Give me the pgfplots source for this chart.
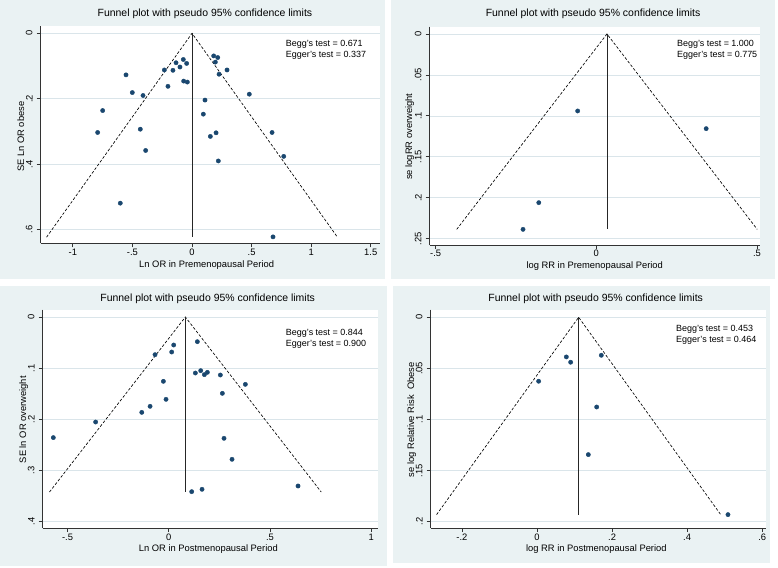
\documentclass[border=0pt]{standalone}
\usepackage{fontspec}
\setmainfont{Liberation Sans}
\usepackage{pgfplots}
\pgfplotsset{compat=1.18}
\definecolor{stbg}{RGB}{234,242,243}
\definecolor{stgrid}{RGB}{218,229,234}
\definecolor{stnavy}{RGB}{26,71,111}
\tikzset{sttest/.style={anchor=base west, inner sep=0pt, font=\fontsize{9}{10}\selectfont}}
\pgfplotsset{
  stata/.style={
    scale only axis,
    y dir=reverse,
    axis x line*=bottom, axis y line*=left,
    axis line style={black!80, line width=0.8bp},
    tick align=outside,
    major tick length=4bp,
    tick style={black!80, line width=0.8bp},
    ymajorgrids, grid style={stgrid, line width=0.7bp},
    font=\fontsize{9.4}{11}\selectfont,
    title style={font=\fontsize{10.5}{12}\selectfont, anchor=base, inner sep=0pt},
    xlabel style={anchor=base, inner sep=0pt},
    ylabel style={anchor=base, inner sep=0pt},
    yticklabel style={rotate=90, anchor=south, inner sep=0pt},
    yticklabel shift=4bp,
    xticklabel style={anchor=base, inner sep=0pt},
    xticklabel shift=8bp,
    clip=false,
  },
  stdots/.style={only marks, mark=*, mark size=2.15bp, mark options={fill=stnavy, draw=stnavy}},
  stfunnel/.style={black, line width=0.65bp, dash pattern=on 2.8bp off 1.8bp, mark=none},
  stcline/.style={black!85, line width=0.9bp, mark=none},
}
\begin{document}
\begin{tikzpicture}
\fill[white] (0bp,0bp) rectangle (778bp,568bp);
\fill[stbg] (0bp,289bp) rectangle (385bp,568bp);
\fill[stbg] (391bp,289bp) rectangle (775bp,568bp);
\fill[stbg] (0bp,2bp) rectangle (387bp,282bp);
\fill[stbg] (393bp,5bp) rectangle (770bp,282bp);
% plot regions
\fill[white] (40.7bp,324.7bp) rectangle (380bp,541.5bp);
\fill[white] (429.7bp,323bp) rectangle (759.7bp,541.3bp);
\fill[white] (42.7bp,40bp) rectangle (378bp,258.3bp);
\fill[white] (430.7bp,40bp) rectangle (766bp,258.3bp);

% Panel 1
\begin{axis}[stata, at={(40.7bp,324.7bp)}, anchor=south west,
  width=339.3bp, height=216.8bp,
  xmin=-1.270, xmax=1.578, ymin=-0.0208, ymax=0.6416,
  xtick={-1,-0.5,0,0.5,1,1.5}, xticklabels={-1,-.5,0,.5,1,1.5},
  ytick={0,0.2,0.4,0.6}, yticklabels={0,.2,.4,.6},
  title={Funnel plot with pseudo 95\% confidence limits},
  title style={at={(axis description cs:0.484,1.0175)}},
  xlabel={Ln OR in Premenopausal Period},
  xlabel style={at={(axis description cs:0.489,-0.1125)}},
  ylabel={SE Ln OR obese},
  ylabel style={at={(axis description cs:-0.0492,0.4917)}},
]
\addplot[stfunnel] coordinates {(-1.221,0.623) (0,0) (1.221,0.623)};
\addplot[stcline] coordinates {(0,0) (0,0.623)};
\addplot[stdots] coordinates {
(-0.554,0.127) (-0.501,0.181) (-0.411,0.190) (-0.750,0.236) (-0.792,0.303)
(-0.434,0.293) (-0.389,0.358) (-0.602,0.519) (-0.232,0.112) (-0.160,0.113)
(-0.134,0.090) (-0.101,0.103) (-0.073,0.080) (-0.045,0.092) (-0.202,0.162)
(-0.070,0.146) (-0.039,0.149) (0.182,0.069) (0.216,0.074) (0.196,0.088)
(0.227,0.125) (0.294,0.112) (0.109,0.204) (0.095,0.247) (0.154,0.315)
(0.202,0.304) (0.221,0.390) (0.481,0.186) (0.672,0.303) (0.770,0.376)
(0.680,0.622)};
\node[sttest] at (axis description cs:0.722,0.907) {Begg's test = 0.671};
\node[sttest] at (axis description cs:0.722,0.858) {Egger's test = 0.337};
\end{axis}

% Panel 2
\begin{axis}[stata, at={(429.7bp,323bp)}, anchor=south west,
  width=330bp, height=218.3bp,
  xmin=-0.5185, xmax=0.5086, ymin=-0.0089, ymax=0.2577,
  xtick={-0.5,0,0.5}, xticklabels={-.5,0,.5},
  ytick={0,0.05,0.1,0.15,0.2,0.25}, yticklabels={0,.05,.1,.15,.2,.25},
  title={Funnel plot with pseudo 95\% confidence limits},
  title style={at={(axis description cs:0.495,1.0183)}},
  xlabel={log RR in Premenopausal Period},
  xlabel style={at={(axis description cs:0.5,-0.1054)}},
  ylabel={se logRR overweight},
  ylabel style={at={(axis description cs:-0.0536,0.496)}},
]
\addplot[stfunnel] coordinates {(-0.4345,0.2386) (0.0332,0) (0.5009,0.2386)};
\addplot[stcline] coordinates {(0.0332,0) (0.0332,0.2386)};
\addplot[stdots] coordinates {(-0.058,0.094) (0.342,0.1156) (-0.179,0.206) (-0.228,0.2386)};
\node[sttest] at (axis description cs:0.749,0.908) {Begg's test = 1.000};
\node[sttest] at (axis description cs:0.749,0.860) {Egger's test = 0.775};
\end{axis}

% Panel 3
\begin{axis}[stata, at={(42.7bp,40bp)}, anchor=south west,
  width=335.3bp, height=218.3bp,
  xmin=-0.6225, xmax=1.034, ymin=-0.0143, ymax=0.4129,
  xtick={-0.5,0,0.5,1}, xticklabels={-.5,0,.5,1},
  ytick={0,0.1,0.2,0.3,0.4}, yticklabels={0,.1,.2,.3,.4},
  title={Funnel plot with pseudo 95\% confidence limits},
  title style={at={(axis description cs:0.492,1.011)}},
  xlabel={Ln OR in Postmenopausal Period},
  xlabel style={at={(axis description cs:0.494,-0.1086)}},
  ylabel={SE ln OR overweight},
  ylabel style={at={(axis description cs:-0.0498,0.496)}},
]
\addplot[stfunnel] coordinates {(-0.589,0.3425) (0.0823,0) (0.7536,0.3425)};
\addplot[stcline] coordinates {(0.0823,0) (0.0823,0.3425)};
\addplot[stdots] coordinates {
(-0.570,0.236) (-0.361,0.2055) (-0.133,0.1866) (-0.092,0.1748) (-0.0675,0.0737)
(-0.0263,0.1259) (-0.0132,0.1611) (0.0148,0.0685) (0.0247,0.0548) (0.1416,0.0483)
(0.1317,0.1096) (0.1581,0.105) (0.1762,0.1128) (0.191,0.1083) (0.2552,0.1135)
(0.2651,0.1494) (0.3787,0.1318) (0.2733,0.2374) (0.3129,0.2785) (0.1136,0.3418)
(0.1647,0.3372) (0.6389,0.3307)};
\node[sttest] at (axis description cs:0.725,0.883) {Begg's test = 0.844};
\node[sttest] at (axis description cs:0.725,0.832) {Egger's test = 0.900};
\end{axis}

% Panel 4
\begin{axis}[stata, at={(430.7bp,40bp)}, anchor=south west,
  width=335.3bp, height=218.3bp,
  xmin=-0.2832, xmax=0.6102, ymin=-0.0074, ymax=0.2062,
  xtick={-0.2,0,0.2,0.4,0.6}, xticklabels={-.2,0,.2,.4,.6},
  ytick={0,0.05,0.1,0.15,0.2}, yticklabels={0,.05,.1,.15,.2},
  title={Funnel plot with pseudo 95\% confidence limits},
  title style={at={(axis description cs:0.492,1.011)}},
  xlabel={log RR in Postmenopausal Period},
  xlabel style={at={(axis description cs:0.494,-0.1086)}},
  ylabel={se log Relative Risk\ \ Obese},
  ylabel style={at={(axis description cs:-0.0498,0.496)}},
]
\addplot[stfunnel] coordinates {(-0.2675,0.1931) (0.111,0) (0.4895,0.1931)};
\addplot[stcline] coordinates {(0.111,0) (0.111,0.1931)};
\addplot[stdots] coordinates {(0.0044,0.0626) (0.0782,0.0388) (0.0897,0.044) (0.1714,0.0372)
(0.159,0.0878) (0.1368,0.1344) (0.5089,0.1931)};
\node[sttest] at (axis description cs:0.7316,0.899) {Begg's test = 0.453};
\node[sttest] at (axis description cs:0.7316,0.849) {Egger's test = 0.464};
\end{axis}
\end{tikzpicture}
\end{document}
